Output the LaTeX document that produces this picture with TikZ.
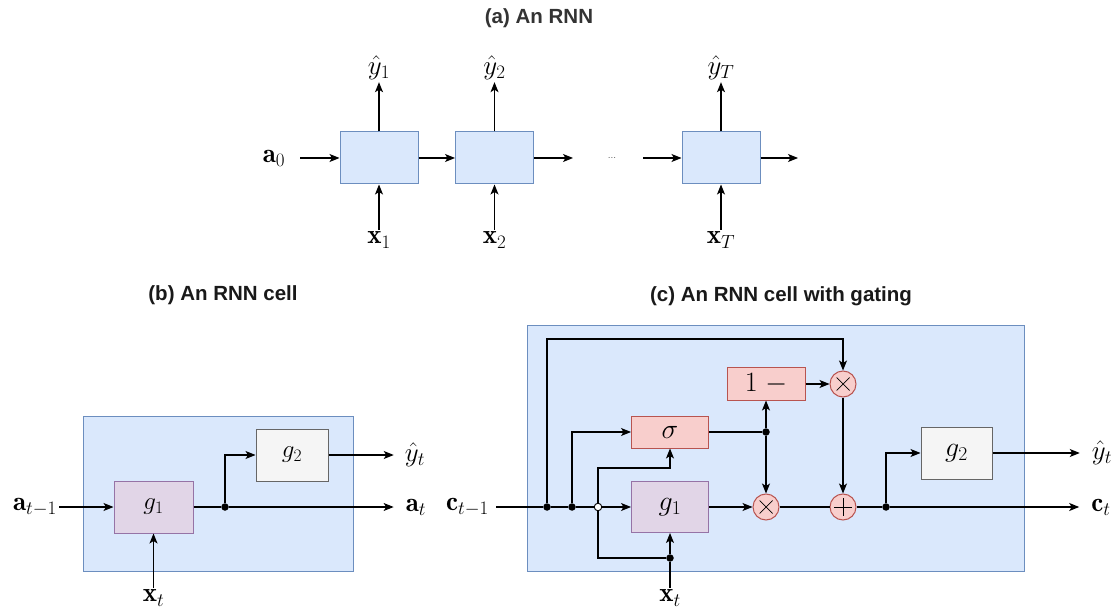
\documentclass[tikz,border=0pt]{standalone}
\usepackage{fix-cm}
\usepackage{amsmath,amssymb}
\usepackage{fontspec}
\setsansfont{Liberation Sans}
\usepackage{xcolor}
\usepackage{tikz}
\usetikzlibrary{arrows.meta,positioning,calc}
\DeclareMathSizes{25}{25}{17.5}{12.5}
\DeclareMathSizes{27}{27}{19}{13.5}
\DeclareMathSizes{28}{28}{19.6}{14}
\definecolor{cellfill}{HTML}{DAE8FC}
\definecolor{celldraw}{HTML}{6C8EBF}
\definecolor{purfill}{HTML}{E1D5E7}
\definecolor{purdraw}{HTML}{9673A6}
\definecolor{redfill}{HTML}{F8CECC}
\definecolor{reddraw}{HTML}{B85450}
\definecolor{greyfill}{HTML}{F5F5F5}
\definecolor{greydraw}{HTML}{666666}
\tikzset{
  ttl/.style   = {font=\sffamily\bfseries\fontsize{20.5}{24}\selectfont, text=black!90},
  lbl/.style   = {font=\fontsize{27}{30}\selectfont, inner sep=2pt},
  frame/.style = {rectangle, draw=celldraw, fill=cellfill, line width=1pt},
  cell/.style  = {rectangle, draw=celldraw, fill=cellfill, line width=1pt,
                  minimum width=78pt, minimum height=52pt},
  blkp/.style  = {rectangle, draw=purdraw, fill=purfill, line width=1pt,
                  minimum width=78pt, minimum height=52pt, font=\fontsize{25}{28}\selectfont},
  blkn/.style  = {rectangle, draw=greydraw, fill=greyfill, line width=1pt,
                  minimum width=72pt, minimum height=52pt, font=\fontsize{25}{28}\selectfont},
  blkr/.style  = {rectangle, draw=reddraw, fill=redfill, line width=1pt,
                  minimum width=78pt, minimum height=32pt, font=\fontsize{28}{30}\selectfont},
  op/.style    = {circle, draw=reddraw, fill=redfill, line width=1pt,
                  minimum size=26pt, inner sep=0pt},
  opx/.style   = {op, path picture={
                  \draw[black, line width=0.7pt]
                    ($(path picture bounding box.center)+(-6.5,-6.5)$) -- ++(13,13)
                    ($(path picture bounding box.center)+(-6.5,6.5)$) -- ++(13,-13);}},
  opp/.style   = {op, path picture={
                  \draw[black, line width=0.7pt]
                    ($(path picture bounding box.center)+(-9,0)$) -- ++(18,0)
                    ($(path picture bounding box.center)+(0,-9)$) -- ++(0,18);}},
  dot/.style   = {circle, fill=black, minimum size=7.5pt, inner sep=0pt},
  hop/.style   = {circle, draw=black, fill=white, line width=0.9pt, minimum size=7.5pt, inner sep=0pt},
  fl/.style    = {-{Stealth[length=10pt,width=8pt,inset=2.5pt]}, line width=1.1pt},
  ln/.style    = {line width=1.1pt},
}
\begin{document}
\begin{tikzpicture}[x=1pt, y=-1pt]
  \useasboundingbox (0,0) rectangle (1117,612);

  % (a) the unrolled net
  \node[ttl, text=black!80] (ta) at (539,18) {(a) An RNN};
  \node[cell] (a1) at (379,158) {};
  \node[cell] (a2) at (494.5,158) {};
  \node[cell] (a3) at (721,158) {};
  \node[lbl] (a0) at (274,158) {$\mathbf{a}_0$};
  \node[lbl] (y1) at (379,68) {$\hat{y}_1$};
  \node[lbl] (y2) at (494.5,68) {$\hat{y}_2$};
  \node[lbl] (yT) at (721,68) {$\hat{y}_T$};
  \node[lbl] (x1) at (379,240) {$\mathbf{x}_1$};
  \node[lbl] (x2) at (494.5,240) {$\mathbf{x}_2$};
  \node[lbl] (xT) at (721,240) {$\mathbf{x}_T$};
  \node[font=\fontsize{10}{11}\selectfont, text=black!70] (gap) at (612,158) {...};
  \coordinate (a2o) at (573,158);
  \coordinate (a3i) at (643,158);
  \coordinate (a3o) at (798,158);
  \draw[fl, shorten <=13pt] (a0) -- (a1);
  \draw[fl] (a1) -- (a2);
  \draw[fl] (a2) -- (a2o);
  \draw[fl] (a3i) -- (a3);
  \draw[fl] (a3) -- (a3o);
  \foreach \c/\y/\x in {a1/y1/x1, a2/y2/x2, a3/yT/xT} {
    \draw[fl] (\c) -- (\y);
    \draw[fl] (\x) -- (\c);
  }

  % (b) one cell
  \node[ttl] (tb) at (223,295) {(b) An RNN cell};
  \node[frame, minimum width=270pt, minimum height=155pt] (fb) at (218,493.5) {};
  \node[blkp, minimum width=79pt] (g1b) at (153.5,507) {$g_1$};
  \node[blkn] (g2b) at (292,455) {$g_2$};
  \node[lbl] (atm) at (35,507) {$\mathbf{a}_{t-1}$};
  \node[lbl] (atb) at (416,507) {$\mathbf{a}_t$};
  \node[lbl] (ytb) at (415,455) {$\hat{y}_t$};
  \node[lbl] (xtb) at (153.5,598) {$\mathbf{x}_t$};
  \node[dot] (db) at (225,507) {};
  \draw[fl] (atm) -- (g1b);
  \draw[ln] (g1b) -- (db);
  \draw[fl, shorten >=10pt] (db) -- (atb);
  \draw[fl] (db) |- (g2b);
  \draw[fl, shorten >=9pt] (g2b) -- (ytb);
  \draw[fl] (xtb) -- (g1b);

  % (c) cell with a gate
  \node[ttl] (tc) at (781,296) {(c) An RNN cell with gating};
  \node[frame, minimum width=497pt, minimum height=245pt] (fc) at (775.5,448.5) {};
  \node[blkp, minimum width=77pt, minimum height=51pt, font=\fontsize{28}{30}\selectfont] (g1c) at (670,507) {$g_1$};
  \node[blkr, minimum width=77pt] (sig) at (670,432) {$\sigma$};
  \node[blkr] (onem) at (766,384) {$1\;-$};
  \node[blkn, minimum width=71pt, font=\fontsize{28}{30}\selectfont] (g2c) at (956.5,453) {$g_2$};
  \node[opx] (mtop) at (843,384) {};
  \node[opx] (mbot) at (766,507) {};
  \node[opp] (plus) at (843,507) {};
  \node[lbl] (ctm) at (467.5,507) {$\mathbf{c}_{t-1}$};
  \node[lbl] (ct) at (1101,507) {$\mathbf{c}_t$};
  \node[lbl] (ytc) at (1102,453) {$\hat{y}_t$};
  \node[lbl] (xtc) at (670,598) {$\mathbf{x}_t$};
  \node[dot] (d1) at (547,507) {};
  \node[dot] (d2) at (572,507) {};
  \node[dot] (ds) at (766,432) {};
  \node[dot] (dout) at (886,507) {};
  \node[dot] (dx) at (670,558) {};
  \coordinate (ctop) at (843,339);
  \coordinate (xup) at (598,468);
  \draw[ln, shorten <=5pt] (ctm) -- (d1);
  \draw[ln] (d1) -- (d2);
  \draw[fl] (d2) -- (g1c);
  \draw[fl] (d1) |- (ctop) -- (mtop);
  \draw[fl] (d2) |- (sig);
  \draw[ln] (xtc) -- (dx);
  \draw[fl] (dx) -- (g1c);
  \draw[fl] (dx) -| (xup) -| (sig);
  \node[hop] (hp) at (598,507) {};
  \draw[fl] (g1c) -- (mbot);
  \draw[ln] (sig) -- (ds);
  \draw[fl] (ds) -- (onem);
  \draw[fl] (ds) -- (mbot);
  \draw[fl] (onem) -- (mtop);
  \draw[fl] (mtop) -- (plus);
  \draw[ln] (mbot) -- (plus);
  \draw[ln] (plus) -- (dout);
  \draw[fl, shorten >=10pt] (dout) -- (ct);
  \draw[fl] (dout) |- (g2c);
  \draw[fl, shorten >=10pt] (g2c) -- (ytc);
\end{tikzpicture}
\end{document}
